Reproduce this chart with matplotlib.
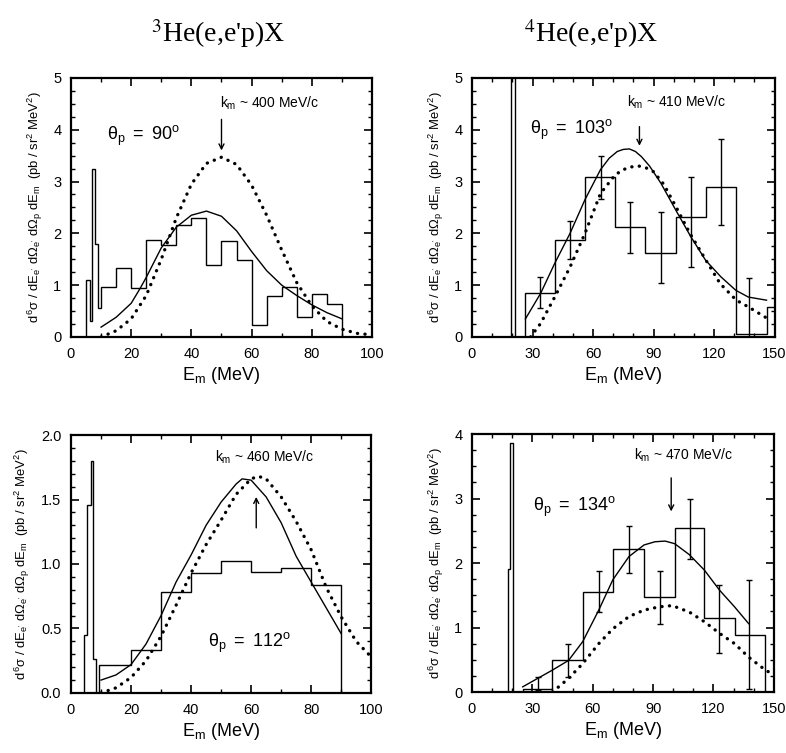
import matplotlib
matplotlib.use('Agg')
from matplotlib import pyplot as plt
from matplotlib.ticker import MultipleLocator, FormatStrFormatter
import numpy as np

plt.rcParams['font.family'] = ['Liberation Sans', 'DejaVu Sans']
plt.rcParams['mathtext.fontset'] = 'custom'
plt.rcParams['mathtext.rm'] = 'Liberation Sans'
plt.rcParams['mathtext.it'] = 'Liberation Sans'
plt.rcParams['mathtext.bf'] = 'Liberation Sans:bold'

# ---- 3He, theta_p = 90 deg ----
he3a_edges = [5, 6.3, 7.1, 8.0, 8.9, 10, 15, 20, 25, 30, 35, 40, 45, 50, 55, 60, 65, 70, 75, 80, 85, 90]
he3a_vals = [1.1, 0.3, 3.25, 1.8, 0.55, 0.96, 1.34, 0.94, 1.87, 1.78, 2.16, 2.30, 1.38, 1.85, 1.49,
             0.24, 0.79, 0.96, 0.39, 0.82, 0.64]
he3a_solid_x = [10, 15, 20, 23, 25, 30, 35, 40, 45, 50, 55, 60, 65, 70, 75, 80, 85, 90]
he3a_solid_y = [0.19, 0.38, 0.65, 0.94, 1.15, 1.72, 2.12, 2.35, 2.43, 2.33, 2.05, 1.65, 1.28, 1.0, 0.8, 0.62, 0.47, 0.35]
he3a_dot_x = [10, 15, 20, 25, 30, 35, 40, 45, 50, 55, 60, 65, 70, 75, 80, 85, 90, 95, 100]
he3a_dot_y = [0.0, 0.12, 0.35, 0.8, 1.5, 2.3, 2.95, 3.35, 3.47, 3.33, 2.93, 2.35, 1.68, 1.05, 0.6, 0.3, 0.15, 0.07, 0.04]

# ---- 4He, theta_p = 103 deg ----
he4a_edges = [19.1, 21.5, 26.5, 41, 56, 71, 86, 101, 116, 131, 146, 150]
he4a_vals = [6.0, 0.0, 0.84, 1.87, 3.08, 2.13, 1.63, 2.32, 2.90, 0.05, 0.57]
he4a_err_x = [33.8, 48.6, 63.7, 78.5, 93.6, 108.4, 123.4, 137.2]
he4a_err_lo = [0.55, 1.50, 2.66, 1.63, 1.05, 1.35, 2.17, 0.0]
he4a_err_hi = [1.15, 2.24, 3.50, 2.61, 2.42, 3.08, 3.83, 1.14]
he4a_solid_x = [26.5, 34, 41, 48.6, 56, 63.7, 68, 72, 75, 78, 81, 84, 88, 93.6, 101, 108.4, 115.8, 123.4, 130.8, 137, 146]
he4a_solid_y = [0.35, 0.84, 1.42, 2.0, 2.65, 3.23, 3.45, 3.58, 3.62, 3.63, 3.58, 3.48, 3.3, 2.97, 2.45, 1.94, 1.48, 1.16, 0.9, 0.77, 0.71]
he4a_dot_x = [29, 34, 41, 48.6, 56, 63.7, 71, 75, 78.5, 82.6, 86, 90, 95, 101, 108, 116, 123, 131, 137, 148]
he4a_dot_y = [0.0, 0.26, 0.77, 1.35, 2.0, 2.77, 3.13, 3.23, 3.28, 3.3, 3.27, 3.19, 2.95, 2.52, 2.0, 1.48, 1.03, 0.71, 0.58, 0.32]

# ---- 3He, theta_p = 112 deg ----
he3b_edges = [4.3, 5.2, 6.7, 7.4, 8.3, 9.3, 20, 30, 40, 50, 60, 70, 80, 90]
he3b_vals = [0.45, 1.46, 1.80, 0.26, 0.0, 0.22, 0.33, 0.78, 0.93, 1.02, 0.94, 0.97, 0.84]
he3b_solid_x = [10, 15, 20, 25, 30, 35, 40, 45, 50, 55, 57, 60, 65, 70, 75, 80, 85, 90]
he3b_solid_y = [0.10, 0.14, 0.22, 0.38, 0.6, 0.86, 1.07, 1.3, 1.48, 1.62, 1.66, 1.65, 1.52, 1.32, 1.06, 0.86, 0.66, 0.46]
he3b_dot_x = [10, 15, 20, 25, 30, 35, 40, 45, 50, 55, 60, 62.4, 65, 70, 75, 80, 85, 90, 95, 100]
he3b_dot_y = [0.0, 0.04, 0.12, 0.25, 0.44, 0.68, 0.93, 1.15, 1.34, 1.54, 1.66, 1.68, 1.66, 1.52, 1.33, 1.11, 0.82, 0.59, 0.4, 0.28]

# ---- 4He, theta_p = 134 deg ----
he4b_edges = [17.8, 18.8, 20.3, 25.2, 40, 55, 70, 85.5, 100.7, 115.5, 130.5, 145.4]
he4b_vals = [1.9, 3.86, 0.0, 0.05, 0.49, 1.55, 2.22, 1.47, 2.55, 1.14, 0.88]
he4b_err_x = [32.7, 47.9, 63.2, 78, 93.2, 108.2, 123, 137.5]
he4b_err_lo = [0.03, 0.23, 1.24, 1.84, 1.06, 2.07, 0.61, 0.05]
he4b_err_hi = [0.23, 0.74, 1.87, 2.58, 1.87, 3.0, 1.66, 1.74]
he4b_solid_x = [25.2, 32, 40, 48, 55, 63, 70, 78, 85.5, 91, 96, 100.7, 108, 115.5, 123, 130.5, 137.5]
he4b_solid_y = [0.08, 0.2, 0.34, 0.49, 0.78, 1.27, 1.74, 2.1, 2.28, 2.33, 2.34, 2.30, 2.13, 1.89, 1.58, 1.32, 1.06]
he4b_dot_x = [40, 48, 55, 63, 70, 78, 85.5, 93, 99.5, 108, 115.5, 123, 130.5, 137.5, 145, 149]
he4b_dot_y = [0.0, 0.21, 0.44, 0.75, 0.98, 1.17, 1.27, 1.32, 1.34, 1.24, 1.09, 0.91, 0.75, 0.54, 0.36, 0.28]

ylabel = r"$d^6\sigma\ /\ dE_{e'}\ d\Omega_{e'}\ d\Omega_p\ dE_m$  (pb / sr$^2$ MeV$^2$)"


def draw_panel(ax, edges, vals, sx, sy, dx, dy, xmax, ymax, xmaj, ymaj, ymin_step, yfmt):

    ax.stairs(vals, edges, color='black', lw=1.0, baseline=0)
    ax.plot(sx, sy, color='black', lw=1.0)
    ax.plot(dx, dy, color='black', lw=2.4, linestyle=(0, (0.05, 2.2)), dash_capstyle='round')

    ax.set_xlim(0, xmax)
    ax.set_ylim(0, ymax)
    ax.xaxis.set_major_locator(MultipleLocator(xmaj))
    ax.xaxis.set_minor_locator(MultipleLocator(10))
    ax.yaxis.set_major_locator(MultipleLocator(ymaj))
    ax.yaxis.set_minor_locator(MultipleLocator(ymin_step))
    ax.yaxis.set_major_formatter(FormatStrFormatter(yfmt))
    ax.tick_params(which='both', direction='in', top=True, right=True, labelsize=10.5, pad=7)
    ax.tick_params(which='major', length=6, width=1.2)
    ax.tick_params(which='minor', length=3, width=1.0)
    for s in ax.spines.values():
        s.set_linewidth(1.6)

    ax.set_xlabel(r'E$_{\rm m}$ (MeV)', fontsize=13, labelpad=3)
    ax.set_ylabel(ylabel, fontsize=9.4, labelpad=6)


def error_bars(ax, x, lo, hi):

    lo = np.array(lo)
    hi = np.array(hi)
    ax.errorbar(x, (lo + hi) / 2, yerr=(hi - lo) / 2, fmt='none', ecolor='black', elinewidth=1.0, capsize=2.5, capthick=1.0)


def arrow(ax, x, y_from, y_to):

    ax.annotate('', xy=(x, y_to), xytext=(x, y_from),
                arrowprops=dict(arrowstyle='->', color='black', lw=1.0, shrinkA=0, shrinkB=0, mutation_scale=9))


fig = plt.figure(figsize=(7.86, 7.53), dpi=100)
ax1 = fig.add_axes([0.0903, 0.5525, 0.383, 0.344])
ax2 = fig.add_axes([0.6005, 0.5525, 0.385, 0.344])
ax3 = fig.add_axes([0.0903, 0.0797, 0.382, 0.3426])
ax4 = fig.add_axes([0.6005, 0.081, 0.384, 0.3426])

draw_panel(ax1, he3a_edges, he3a_vals, he3a_solid_x, he3a_solid_y, he3a_dot_x, he3a_dot_y, 100, 5, 20, 1, 0.25, '%d')
arrow(ax1, 50, 4.2, 3.6)
ax1.text(49.5, 4.42, r'$k_m$ ~ 400 MeV/c', fontsize=10)
ax1.text(12, 3.8, r'$\theta_p\ =\ 90^o$', fontsize=13)

draw_panel(ax2, he4a_edges, he4a_vals, he4a_solid_x, he4a_solid_y, he4a_dot_x, he4a_dot_y, 150, 5, 30, 1, 0.25, '%d')
error_bars(ax2, he4a_err_x, he4a_err_lo, he4a_err_hi)
arrow(ax2, 83, 4.06, 3.69)
ax2.text(77, 4.45, r'$k_m$ ~ 410 MeV/c', fontsize=10)
ax2.text(29, 3.92, r'$\theta_p\ =\ 103^o$', fontsize=13)

draw_panel(ax3, he3b_edges, he3b_vals, he3b_solid_x, he3b_solid_y, he3b_dot_x, he3b_dot_y, 100, 2.0, 20, 0.5, 0.1, '%.1f')
arrow(ax3, 61.7, 1.28, 1.52)
ax3.text(48, 1.79, r'$k_m$ ~ 460 MeV/c', fontsize=10)
ax3.text(45.8, 0.36, r'$\theta_p\ =\ 112^o$', fontsize=13)

draw_panel(ax4, he4b_edges, he4b_vals, he4b_solid_x, he4b_solid_y, he4b_dot_x, he4b_dot_y, 150, 4, 30, 1, 0.25, '%d')
error_bars(ax4, he4b_err_x, he4b_err_lo, he4b_err_hi)
arrow(ax4, 99, 3.32, 2.80)
ax4.text(80.5, 3.6, r'$k_m$ ~ 470 MeV/c', fontsize=10)
ax4.text(30.2, 2.8, r'$\theta_p\ =\ 134^o$', fontsize=13)

fig.text(0.278, 0.955, r"$^{3}$He(e,e'p)X", fontsize=20, family='Liberation Serif', ha='center', va='center',
         math_fontfamily='stix')
fig.text(0.752, 0.955, r"$^{4}$He(e,e'p)X", fontsize=20, family='Liberation Serif', ha='center', va='center',
         math_fontfamily='stix')

fig.savefig('out.png', dpi=100)
